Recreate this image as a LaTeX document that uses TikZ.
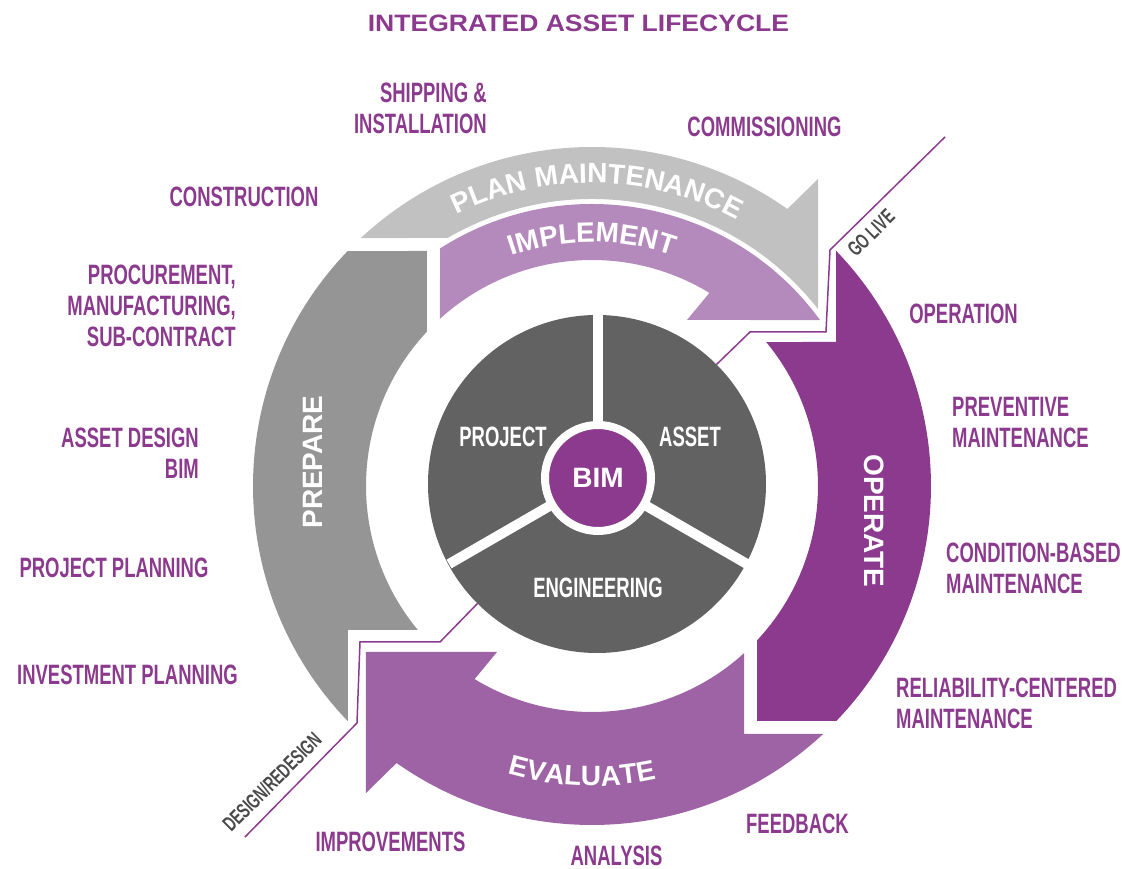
\documentclass[tikz,border=0pt]{standalone}
\usepackage{fontspec}
\usepackage{tikz}
\usetikzlibrary{decorations.text}

\setmainfont{Liberation Sans}
\newfontfamily\labelfont[FakeStretch=0.66]{Liberation Sans Bold}
\newfontfamily\titlefont[FakeStretch=1.12]{Liberation Sans Bold}
\newfontfamily\bandfont{Liberation Sans Bold}

\definecolor{lifepurple}{HTML}{8B3A8E}
\definecolor{implementpurple}{HTML}{B48ABD}
\definecolor{evaluatepurple}{HTML}{9E63A5}
\definecolor{plangray}{HTML}{C0C1C0}
\definecolor{preparegray}{HTML}{959595}
\definecolor{coregray}{HTML}{626262}
\definecolor{milestonegray}{HTML}{4A4A4A}

\tikzset{
  steplabel/.style={inner sep=0pt, text=lifepurple, font=\labelfont\fontsize{28}{31}\selectfont},
  corelabel/.style={inner sep=0pt, text=white, font=\labelfont\fontsize{28}{31}\selectfont},
  milestone/.style={inner sep=0pt, text=milestonegray, font=\labelfont\fontsize{21}{21}\selectfont},
  bandlabel/.style={inner sep=0pt, text=white, font=\bandfont\fontsize{28}{28}\selectfont},
  bandtext/.style={decorate, decoration={text along path, text color=white, text align=center,
      text={|\bandfont\fontsize{28}{28}\selectfont|#1}}},
  lifeline/.style={lifepurple, line width=1.5pt},
}

\begin{document}
\begin{tikzpicture}[x=1pt, y=1pt]
            \useasboundingbox (-592,-383) rectangle (530,486);

            % outer ring
            \fill[plangray] (133:339) arc[start angle=133, end angle=54.8, radius=339]
                -- (226,307) -- (226,176.9) arc[start angle=38.05, end angle=120.2, radius=287] -- cycle;
            \fill[implementpurple] (122.6:282) arc[start angle=122.6, end angle=36.06, radius=282]
                -- (95,166) -- (58.7:226) arc[start angle=58.7, end angle=132.3, radius=226] -- cycle;
            \fill[evaluatepurple] (313:339) arc[start angle=313, end angle=234.8, radius=339]
                -- (-226,-307) -- (-226,-166) -- (-95,-166) -- (238.7:226)
                arc[start angle=238.7, end angle=312.3, radius=226] -- (152,-248) -- cycle;
            \fill[lifepurple] (43.96:339) -- (244,144) -- (39.58:226) arc[start angle=39.58, end angle=-43.08, radius=226]
                -- (165,-235) -- (-43.88:339) arc[start angle=-43.88, end angle=43.96, radius=339] -- cycle;
            \fill[preparegray] (223.96:339) -- (-244,-144) -- (219.58:226) arc[start angle=219.58, end angle=136.92, radius=226]
                -- (-165,235) -- (136.12:339) arc[start angle=136.12, end angle=223.96, radius=339] -- cycle;

            \path[bandtext=PLAN MAINTENANCE] (124:303) arc[start angle=124, end angle=54, radius=303];
            \path[bandtext=IMPLEMENT] (130:244) arc[start angle=130, end angle=50, radius=244];
            \path[bandtext=EVALUATE] (-127:300) arc[start angle=-127, end angle=-57, radius=300];
            \node[bandlabel, rotate=90] (prepare) at (-279,24) {PREPARE};
            \node[bandlabel, rotate=-90] (operate) at (282,-35) {OPERATE};

            % core
            \node[circle, fill=coregray, minimum size=338pt, inner sep=0pt, outer sep=0pt] (pie) at (5,2) {};
            \coordinate (hub) at (6,8);
            \foreach \a in {90,210,330}
                \draw[white, line width=10pt] (hub) -- ++(\a:172);
            \node[circle, fill=lifepurple, draw=white, line width=8pt, minimum size=106pt, inner sep=0pt,
                text=white, font=\bandfont\fontsize{28}{28}\selectfont] (bim) at (hub) {BIM};
            \node[corelabel] (project) at (-89,49) {PROJECT};
            \node[corelabel] (asset) at (98,49) {ASSET};
            \node[corelabel] (engineering) at (6,-102) {ENGINEERING};

            % milestones
            \coordinate (golive end) at (353,349);
            \coordinate (design end) at (-347,-351);
            \draw[lifeline] (golive end) -- (238,236) -- (234,154) -- (158,154) -- (pie.45);
            \draw[lifeline] (design end) -- (-235,-237) -- (-232,-156) -- (-152,-156) -- (pie.225);
            \node[milestone, rotate=44.5] (golive) at (279,253) {GO LIVE};
            \node[milestone, rotate=45] (design) at (-320,-296) {DESIGN/REDESIGN};

            \node[inner sep=0pt, text=lifepurple, font=\titlefont\fontsize{23.7}{24}\selectfont] (title)
                at (-13.5,462.5) {INTEGRATED ASSET LIFECYCLE};

            % steps
            \node[steplabel, anchor=east, align=right] (shipping) at (-105,378) {SHIPPING \&\\INSTALLATION};
            \node[steplabel] (commissioning) at (172.5,359) {COMMISSIONING};
            \node[steplabel] (construction) at (-348,289) {CONSTRUCTION};
            \node[steplabel, anchor=east, align=right] (procurement) at (-356,180) {PROCUREMENT,\\MANUFACTURING,\\SUB-CONTRACT};
            \node[steplabel, anchor=east, align=right] (assetdesign) at (-393,32.5) {ASSET DESIGN\\BIM};
            \node[steplabel] (projectplanning) at (-478,-82) {PROJECT PLANNING};
            \node[steplabel] (investment) at (-464.5,-189) {INVESTMENT PLANNING};
            \node[steplabel] (operation) at (371.5,172) {OPERATION};
            \node[steplabel, anchor=west, align=left] (preventive) at (360,63) {PREVENTIVE\\MAINTENANCE};
            \node[steplabel, anchor=west, align=left] (condition) at (354,-82) {CONDITION-BASED\\MAINTENANCE};
            \node[steplabel, anchor=west, align=left] (reliability) at (304,-217) {RELIABILITY-CENTERED\\MAINTENANCE};
            \node[steplabel] (feedback) at (205.5,-338) {FEEDBACK};
            \node[steplabel] (analysis) at (24.5,-370) {ANALYSIS};
            \node[steplabel] (improvements) at (-201.5,-356) {IMPROVEMENTS};
        \end{tikzpicture}
\end{document}
